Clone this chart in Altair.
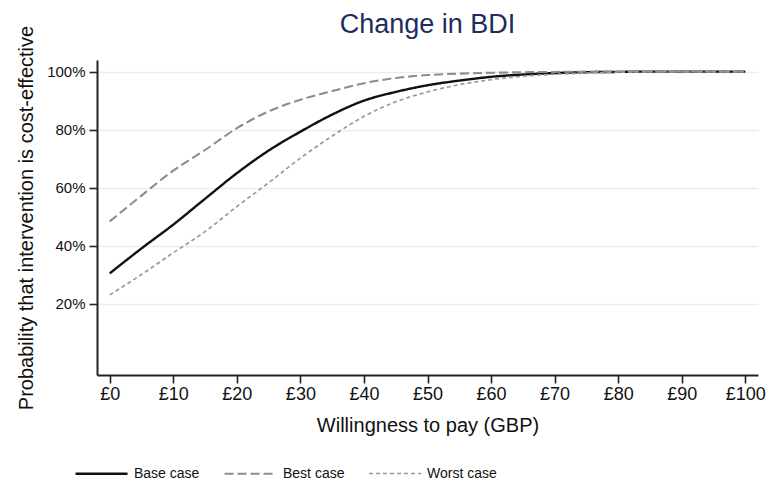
import altair as alt
import pandas as pd

# Willingness-to-pay thresholds (GBP) and probability (%) that the
# intervention is cost-effective under each scenario.
wtp = [0, 5, 10, 15, 20, 25, 30, 35, 40, 45, 50, 55, 60, 65, 70, 75, 80, 85, 90, 95, 100]
base_case = [30.5, 39.1, 47.3, 56.2, 65.0, 72.8, 79.3, 85.2, 90.0, 93.0, 95.3, 96.9, 98.2,
             99.0, 99.5, 99.8, 99.9, 100, 100, 100, 100]
best_case = [48.4, 57.3, 65.9, 73.0, 80.5, 86.3, 90.3, 93.3, 96.0, 97.8, 98.8, 99.3, 99.6,
             99.8, 99.9, 100, 100, 100, 100, 100, 100]
worst_case = [23.1, 30.1, 37.6, 44.9, 53.5, 61.7, 70.2, 77.8, 84.6, 89.6, 93.0, 95.5, 97.2,
              98.4, 99.1, 99.5, 99.8, 100, 100, 100, 100]

scenarios = ["Base case", "Best case", "Worst case"]
x_ticks = [0, 10, 20, 30, 40, 50, 60, 70, 80, 90, 100]
y_ticks = [20, 40, 60, 80, 100]

rows = []
for name, series in zip(scenarios, [base_case, best_case, worst_case]):
    for x, y in zip(wtp, series):
        rows.append({"wtp": x, "prob": y, "scenario": name})
df = pd.DataFrame(rows)

FONT = "Liberation Sans"

legend = alt.Legend(
    title=None,
    orient="none",
    direction="horizontal",
    legendX=-23,
    legendY=386,
    symbolType="stroke",
    symbolSize=2704,
    labelFont=FONT,
    labelFontSize=14,
    labelColor="#111111",
    labelOffset=5,
    columnPadding=20,
)

chart = (
    alt.Chart(df, title=alt.Title(
        "Change in BDI", font=FONT, fontSize=27, fontWeight="normal",
        color="#1e2d5c", anchor="middle", offset=10, dy=24))
    .mark_line(interpolate="monotone")
    .encode(
        x=alt.X("wtp:Q",
                scale=alt.Scale(domain=[-2, 102], nice=False, zero=False),
                axis=alt.Axis(values=x_ticks, labelExpr="'£' + datum.value",
                              title="Willingness to pay (GBP)", grid=False)),
        y=alt.Y("prob:Q",
                scale=alt.Scale(domain=[-4.5, 104], nice=False, zero=False),
                axis=alt.Axis(values=y_ticks, labelExpr="datum.value + '%'",
                              title="Probability that intervention is cost-effective",
                              grid=True)),
        color=alt.Color("scenario:N",
                        scale=alt.Scale(domain=scenarios,
                                        range=["#111111", "#8c8c8c", "#9a9a9a"]),
                        legend=legend),
        strokeDash=alt.StrokeDash("scenario:N",
                                  scale=alt.Scale(domain=scenarios,
                                                  range=[[1, 0], [9, 4], [4, 3]]),
                                  legend=legend),
        strokeWidth=alt.StrokeWidth("scenario:N",
                                    scale=alt.Scale(domain=scenarios, range=[2.4, 1.7, 1.7]),
                                    legend=legend),
        order=alt.Order("wtp:Q"),
    )
    .properties(
        width=661,
        height=315,
        autosize=alt.AutoSizeParams(type="none"),
        padding={"left": 97, "top": 60, "right": 11, "bottom": 111},
    )
    .configure_view(stroke=None)
    .configure_axis(
        domainColor="#222222",
        domainWidth=2,
        tickColor="#222222",
        tickWidth=1.6,
        tickSize=8,
        labelFont=FONT,
        labelColor="#111111",
        titleFont=FONT,
        titleFontWeight="normal",
        titleColor="#111111",
        gridColor="#e6eef2",
        gridWidth=1.6,
    )
    .configure_axisX(labelFontSize=18, labelPadding=2, titlePadding=12, titleFontSize=20)
    .configure_axisY(labelFontSize=15, labelPadding=4, titlePadding=10, titleFontSize=20)
)

chart.save("out.html", embed_options={"renderer": "svg", "actions": False})
